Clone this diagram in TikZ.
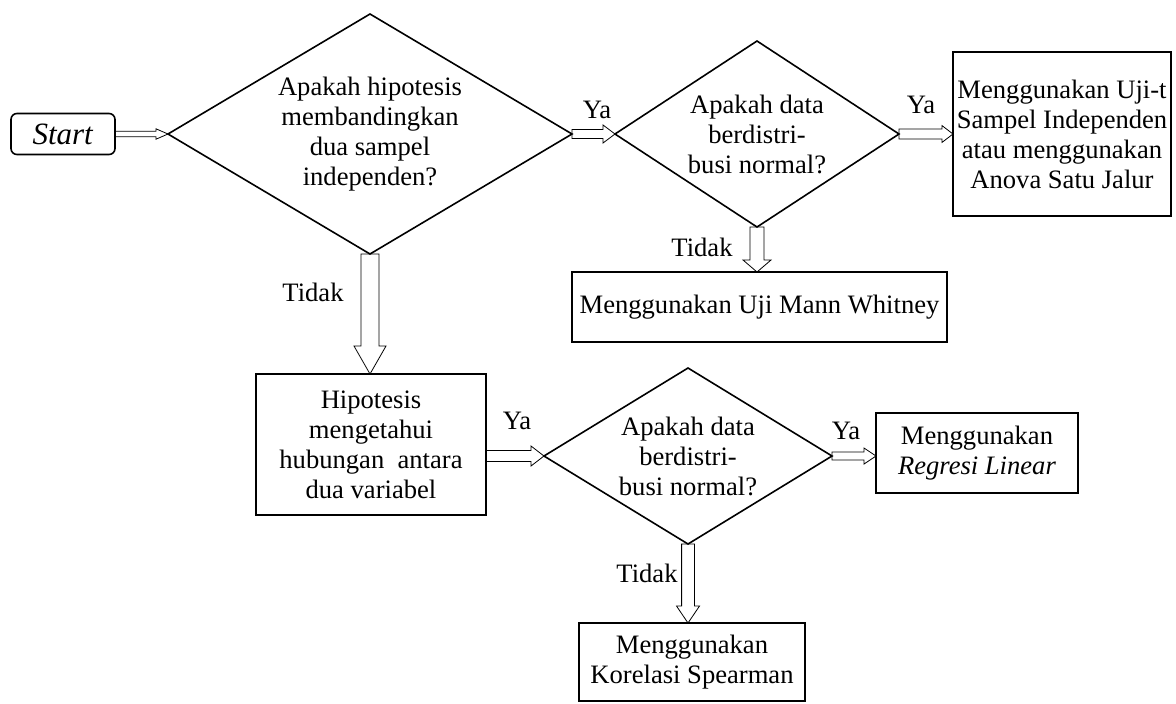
\documentclass[tikz,border=0pt]{standalone}
\usepackage{fontspec}
\setmainfont{Liberation Serif}
\usetikzlibrary{shapes.geometric,calc}
\tikzset{
  txt/.style={font=\fontsize{13.3}{15}\selectfont, align=center, inner sep=0pt, outer sep=0pt},
  box/.style={txt, draw, line width=0.8pt},
  ask/.style={txt, draw, diamond, line width=0.8pt, inner sep=-8pt},
  ra/.style n args={3}{line width=0.7pt, to path={let \p1=(\tikztostart), \p2=(\tikztotarget) in
    (\x1,\y1+#1) -- (\x2-#3,\y1+#1) -- (\x2-#3,\y1+#2) -- (\x2,\y1)
    -- (\x2-#3,\y1-#2) -- (\x2-#3,\y1-#1) -- (\x1,\y1-#1) -- cycle}},
  da/.style n args={3}{line width=0.7pt, to path={let \p1=(\tikztostart), \p2=(\tikztotarget) in
    (\x1-#1,\y1) -- (\x1-#1,\y2+#3) -- (\x1-#2,\y2+#3) -- (\x1,\y2)
    -- (\x1+#2,\y2+#3) -- (\x1+#1,\y2+#3) -- (\x1+#1,\y1) -- cycle}}
}
\begin{document}
\begin{tikzpicture}[x=0.5pt, y=-0.5pt]
  \useasboundingbox (0,0) rectangle (1176,703);
  \node[box, rounded corners=3pt, minimum width=52pt, minimum height=20.5pt, font=\fontsize{15.5}{17}\selectfont] (start) at (63,134) {\textit{Start}};
  \node[ask, minimum width=202pt, minimum height=120pt] (q1) at (370,134) {Apakah hipotesis\\membandingkan\\dua sampel\\independen?};
  \node[ask, minimum width=142pt, minimum height=93pt] (q2) at (757,134) {Apakah data\\berdistri-\\busi normal?};
  \node[box, minimum width=109pt, minimum height=82pt] (ujit) at (1062,134) {Menggunakan Uji-t\\Sampel Independen\\atau menggunakan\\Anova Satu Jalur};
  \node[box, minimum width=187.5pt, minimum height=35pt] (mann) at (759.5,307) {Menggunakan Uji Mann Whitney};
  \node[box, minimum width=115pt, minimum height=70.5pt] (hipo) at (371,444.5) {Hipotesis\\mengetahui\\hubungan\ \ antara\\dua variabel};
  \node[ask, minimum width=144pt, minimum height=88pt] (q3) at (688,456) {Apakah data\\berdistri-\\busi normal?};
  \node[box, minimum width=101pt, minimum height=40pt] (regresi) at (977,453) {Menggunakan\\\textit{Regresi Linear}};
  \node[box, minimum width=113pt, minimum height=39pt] (korelasi) at (692,662) {Menggunakan\\Korelasi Spearman};

  \node[txt] (ya1) at (597,110) {Ya};
  \node[txt] (ya2) at (921,105) {Ya};
  \node[txt] (ya3) at (517,421) {Ya};
  \node[txt] (ya4) at (846,431) {Ya};
  \node[txt] (tidak1) at (313,292) {Tidak};
  \node[txt] (tidak2) at (702,247) {Tidak};
  \node[txt] (tidak3) at (647,573) {Tidak};

  \draw (start.east) to[ra={1.4pt}{2.6pt}{6pt}] (q1.west);
  \draw (q1.east) to[ra={2.25pt}{4.5pt}{6pt}] (q2.west);
  \draw (q2.east) to[ra={2.5pt}{4.2pt}{5.5pt}] (ujit.west);
  \draw (q1.south) to[da={4.5pt}{8pt}{14pt}] (hipo.north);
  \draw (q2.south) to[da={3.5pt}{7pt}{6pt}] (mann.north);
  \draw (hipo.east |- q3.west) to[ra={2.75pt}{5pt}{6.5pt}] (q3.west);
  \draw (q3.east) to[ra={2pt}{4pt}{6pt}] (regresi.west);
  \draw (q3.south) to[da={3.2pt}{5.75pt}{8.5pt}] (korelasi.north);
\end{tikzpicture}
\end{document}
